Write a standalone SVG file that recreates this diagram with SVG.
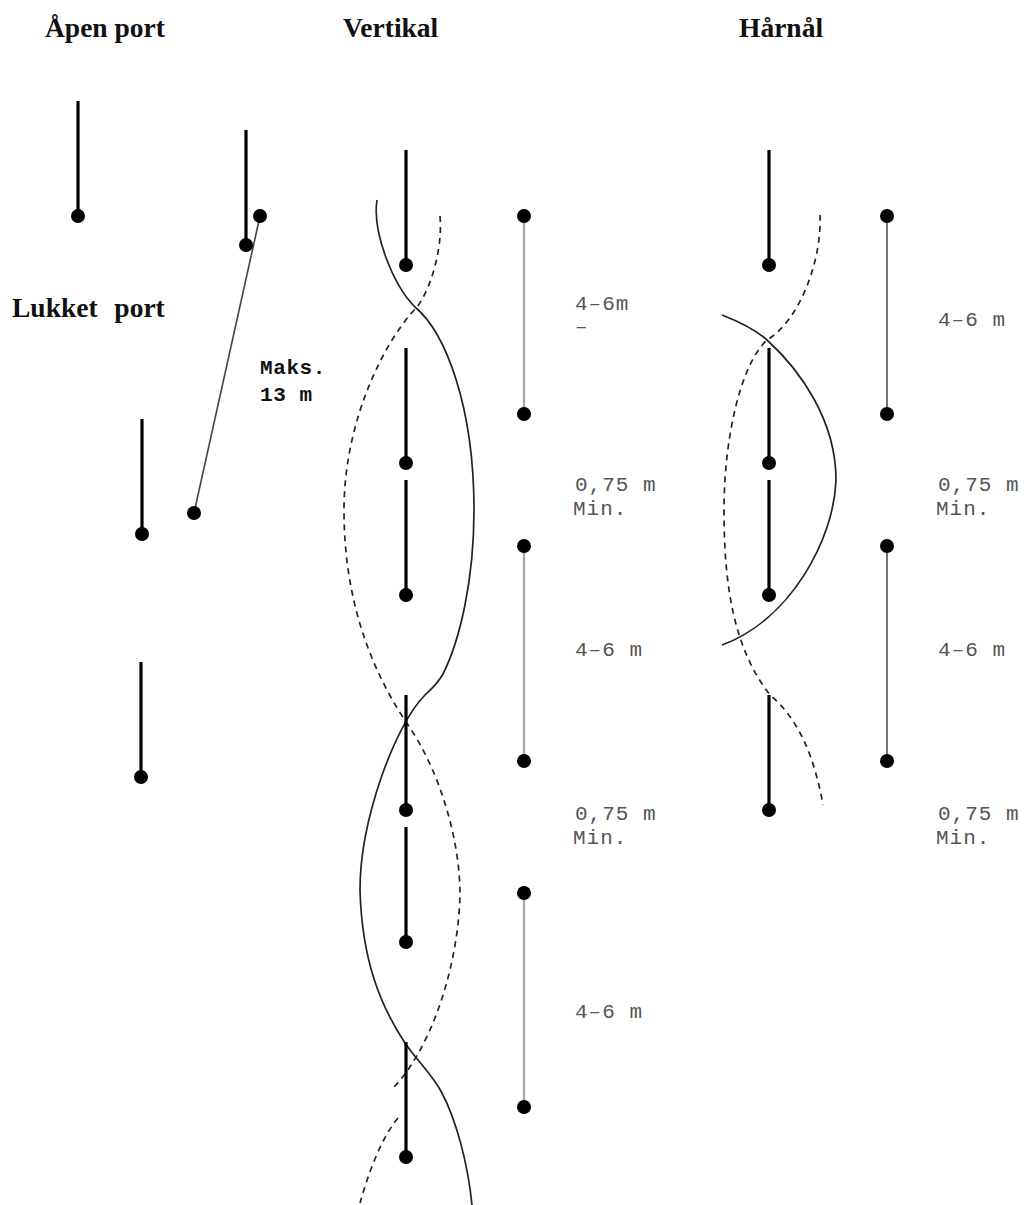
<svg xmlns="http://www.w3.org/2000/svg" width="1026" height="1205" viewBox="0 0 1026 1205">
<style>
.bg{fill:#fff}
.pole{stroke:#000;stroke-width:3.2;fill:none}
.span{stroke:#aaa;stroke-width:2.4;fill:none}
.span2{stroke:#666;stroke-width:1.8;fill:none}
.tilt{stroke:#444;stroke-width:1.6;fill:none}
.dot{fill:#000}
.solid{stroke:#222;stroke-width:1.7;fill:none}
.dash{stroke:#222;stroke-width:1.7;fill:none;stroke-dasharray:6 5}
.h{font-family:"Liberation Serif",serif;font-weight:bold;font-size:27.5px;fill:#111}
.m{font-family:"Liberation Mono",monospace;font-size:21px;letter-spacing:1px;fill:#555}
.b{font-family:"Liberation Mono",monospace;font-weight:bold;font-size:21px;letter-spacing:.6px;fill:#111}
</style>
<defs>
<g id="gate"><line class="pole" x1="0" y1="-115" x2="0" y2="0"/><circle class="dot" cx="0" cy="0" r="7"/></g>
<g id="dot"><circle class="dot" cx="0" cy="0" r="7"/></g>
</defs>
<rect class="bg" width="1026" height="1205"/>
<g id="connectors">
<line class="tilt" x1="260" y1="216" x2="194" y2="513"/>
<line class="span" x1="524" y1="216" x2="524" y2="414"/>
<line class="span" x1="524" y1="546" x2="524" y2="761"/>
<line class="span" x1="524" y1="893" x2="524" y2="1107"/>
<line class="span2" x1="887" y1="216" x2="887" y2="414"/>
<line class="span2" x1="887" y1="546" x2="887" y2="761"/>
<path class="solid" d="M377 200C372 232 393 285 415 307C445 332 474 405 474 510C474 580 460 640 443 674C436 686 430 690 425 695C395 725 360 820 360 890C362 960 380 1005 405 1043C418 1062 432 1074 442 1093C457 1122 468 1165 472 1205"/>
<path class="dash" d="M440 216C443 250 430 290 417 307C385 340 344 420 344 510C344 590 365 660 406 722C440 770 460 840 460 895C458 970 430 1050 393 1088"/>
<path class="dash" d="M398 1118C380 1140 368 1175 360 1203"/>
<path class="solid" d="M722 315C745 324 757 331 767 340C800 370 836 420 836 480C834 540 790 620 722 645"/>
<path class="dash" d="M820 215C822 260 800 320 767 340C740 365 724 440 724 510C724 590 735 650 770 695C800 720 815 760 823 805"/>
</g>
<g id="open-1"><use href="#gate" x="78" y="216"/></g>
<g id="open-2"><use href="#gate" x="246" y="245"/><use href="#dot" x="260" y="216"/><use href="#dot" x="194" y="513"/></g>
<g id="closed-1"><use href="#gate" x="142" y="534"/></g>
<g id="closed-2"><use href="#gate" x="141" y="777"/></g>
<g id="vertical-gates">
<use href="#gate" x="406" y="265"/><use href="#gate" x="406" y="463"/><use href="#gate" x="406" y="595"/>
<use href="#gate" x="406" y="810"/><use href="#gate" x="406" y="942"/><use href="#gate" x="406" y="1157"/>
</g>
<g id="vertical-spans">
<use href="#dot" x="524" y="216"/><use href="#dot" x="524" y="414"/><use href="#dot" x="524" y="546"/>
<use href="#dot" x="524" y="761"/><use href="#dot" x="524" y="893"/><use href="#dot" x="524" y="1107"/>
</g>
<g id="hairpin-gates">
<use href="#gate" x="769" y="265"/><use href="#gate" x="769" y="463"/><use href="#gate" x="769" y="595"/><use href="#gate" x="769" y="810"/>
</g>
<g id="hairpin-spans">
<use href="#dot" x="887" y="216"/><use href="#dot" x="887" y="414"/><use href="#dot" x="887" y="546"/><use href="#dot" x="887" y="761"/>
</g>
<g id="labels">
<text class="h" x="45" y="37">Åpen port</text>
<text class="h" x="343" y="37">Vertikal</text>
<text class="h" x="739" y="37">Hårnål</text>
<text class="h" x="12" y="317" xml:space="preserve" word-spacing="1.5">Lukket  port</text>
<text class="b" x="260" y="374">Maks.</text>
<text class="b" x="260" y="401">13 m</text>
<text class="m" x="575" y="310">4–6m</text>
<text class="m" x="575" y="333">–</text>
<text class="m" x="575" y="491">0,75 m</text>
<text class="m" x="573" y="515">Min.</text>
<text class="m" x="575" y="656">4–6 m</text>
<text class="m" x="575" y="820">0,75 m</text>
<text class="m" x="573" y="844">Min.</text>
<text class="m" x="575" y="1018">4–6 m</text>
<text class="m" x="938" y="326">4–6 m</text>
<text class="m" x="938" y="491">0,75 m</text>
<text class="m" x="936" y="515">Min.</text>
<text class="m" x="938" y="656">4–6 m</text>
<text class="m" x="938" y="820">0,75 m</text>
<text class="m" x="936" y="844">Min.</text>
</g>
</svg>
